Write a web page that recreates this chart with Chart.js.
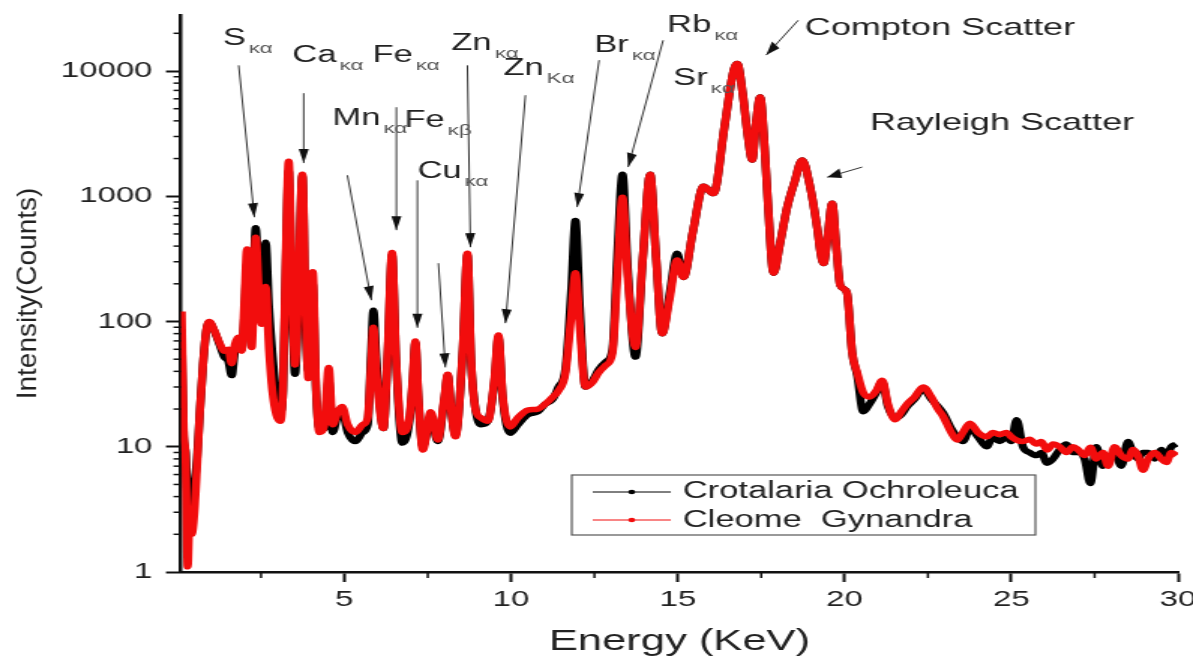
<!DOCTYPE html>
<html>
<head>
<meta charset="utf-8">
<title>EDXRF spectrum</title>
<script src="https://cdn.jsdelivr.net/npm/chart.js"></script>
<style>
  html, body { margin: 0; padding: 0; background: #fff; overflow: hidden; }
  /* the original figure is stretched sideways, so the chart is drawn narrow and scaled */
  #wrap { width: 800px; height: 661px; transform: scale(1.50063, 1); transform-origin: 0 0; }
</style>
</head>
<body>
<div id="wrap"><canvas id="spectrum"></canvas></div>
<script>
const STRETCH = 1193 / 795;

// energy grid (keV) and counts
const energy = [
  0.12, 0.18, 0.24, 0.30, 0.36, 0.42, 0.50, 0.58, 0.66, 0.76, 0.86, 0.95, 1.10, 1.25, 1.40, 1.52, 1.62, 1.72, 1.82, 1.92,
  2.00, 2.08, 2.16, 2.22, 2.34, 2.44, 2.52, 2.64, 2.74, 2.84, 2.96, 3.08, 3.16, 3.24, 3.33, 3.42, 3.52, 3.62, 3.74, 3.84,
  3.92, 4.05, 4.15, 4.25, 4.40, 4.53, 4.65, 4.80, 4.93, 5.10, 5.33, 5.55, 5.70, 5.80, 5.87, 5.96, 6.06, 6.17, 6.30, 6.43,
  6.55, 6.74, 6.95, 7.05, 7.13, 7.22, 7.35, 7.59, 7.80, 8.00, 8.10, 8.20, 8.33, 8.55, 8.69, 8.80, 8.93, 9.10, 9.30, 9.50,
  9.62, 9.75, 9.97, 10.2, 10.5, 10.8, 11.03, 11.25, 11.42, 11.63, 11.80, 11.93, 12.06, 12.23, 12.45, 12.62, 12.85, 13.04, 13.18, 13.34,
  13.50, 13.73, 13.95, 14.17, 14.35, 14.53, 14.75, 14.98, 15.17, 15.45, 15.77, 16.07, 16.40, 16.65, 16.78, 16.95, 17.10, 17.23, 17.35, 17.47,
  17.60, 17.70, 17.87, 18.05, 18.28, 18.50, 18.73, 18.95, 19.18, 19.27, 19.37, 19.50, 19.63, 19.75, 19.87, 20.07, 20.23, 20.38, 20.56, 20.75,
  20.95, 21.13, 21.30, 21.52, 21.70, 21.88, 22.10, 22.36, 22.60, 22.80, 22.96, 23.20, 23.38, 23.55, 23.76, 24.00, 24.26, 24.45, 24.65, 24.85,
  25.00, 25.16, 25.35, 25.55, 25.75, 25.90, 26.07, 26.25, 26.45, 26.65, 26.85, 27.00, 27.20, 27.37, 27.55, 27.75, 27.90, 28.10, 28.30, 28.50,
  28.65, 28.80, 28.95, 29.10, 29.30, 29.50, 29.65, 29.80, 29.95
];

const cleome = [
  120, 14, 8, 1.1, 3, 2, 3, 7, 18, 45, 85, 100, 85, 68, 58, 60, 46, 66, 75, 58,
  140, 380, 120, 62, 470, 160, 95, 190, 60, 28, 18, 16, 30, 300, 1900, 250, 45, 180, 1500, 120,
  35, 250, 30, 13, 15, 43, 15, 19, 21, 15, 13, 15, 17, 45, 90, 40, 20, 14, 60, 355,
  50, 13, 17, 35, 70, 25, 9.4, 19, 11.3, 25, 38, 20, 12, 60, 350, 50, 20, 17, 16, 35,
  78, 25, 14.4, 17, 19.6, 20, 22, 25, 28, 39, 110, 245, 90, 30, 33, 39, 45, 56, 220, 980,
  220, 62, 320, 1500, 320, 80, 150, 310, 225, 520, 1200, 1050, 3600, 9500, 11500, 6500, 3000, 1950, 4000, 6200,
  2500, 900, 243, 400, 820, 1300, 1950, 1250, 560, 370, 290, 500, 880, 400, 195, 170, 56, 39, 27, 25,
  28, 34, 22, 16.4, 19, 22, 25, 30, 25, 20, 17.4, 13, 11.3, 13, 15.4, 13, 12, 13, 12.5, 13,
  12, 11.3, 11, 11.5, 10.5, 11, 9.4, 10.5, 10, 9, 10, 9.5, 8.5, 9.9, 8, 9, 7, 10, 8.5, 8,
  9.5, 8.5, 6.5, 8, 9, 8, 7.5, 9, 8.5
];

const crotalaria = [
  80, 12, 9, 4, 5, 3, 5, 8, 18, 45, 85, 98, 84, 66, 52, 48, 37, 58, 62, 60,
  110, 290, 150, 95, 560, 200, 160, 430, 130, 56, 26, 19, 28, 250, 1600, 180, 38, 150, 1450, 90,
  40, 200, 28, 14, 14, 34, 13, 18, 19, 13, 11, 13, 15, 55, 123, 50, 22, 14, 55, 340,
  48, 10.7, 16, 33, 68, 24, 10, 17, 11, 24, 37, 20, 12.5, 58, 340, 48, 20, 15, 16, 33,
  75, 24, 12.8, 15, 18, 19, 22, 24, 30, 42, 170, 640, 130, 30, 34, 41, 48, 60, 320, 1500,
  260, 52, 320, 1500, 320, 80, 165, 350, 225, 520, 1200, 1050, 3600, 9500, 11500, 6500, 3000, 1950, 4000, 6200,
  2500, 900, 243, 400, 820, 1300, 1950, 1250, 560, 370, 290, 500, 880, 400, 195, 170, 56, 37, 19, 22,
  27, 33, 21, 17, 18, 21, 24, 29, 24, 21, 18.6, 14, 12, 11, 14, 12, 10, 12, 11, 12,
  11, 16.4, 10, 9, 8.5, 9, 7.4, 8, 9.5, 10.5, 9, 9, 8, 5.1, 10, 7, 8, 9, 7, 11,
  9, 8, 9, 9, 8, 9.5, 8.5, 10, 10.5
];

const seriesNames = ['Crotalaria Ochroleuca', 'Cleome  Gynandra'];
const seriesColors = ['#000000', '#f20d0d'];

// axis ticks
const xMajorTicks = [5, 10, 15, 20, 25, 30];
const xMinorTicks = [2.5, 7.5, 12.5, 17.5, 22.5, 27.5];
const yMajorTicks = [1, 10, 100, 1000, 10000];
const yMinorTicks = [2, 3, 4, 5, 6, 7, 8, 9, 20, 30, 40, 50, 60, 70, 80, 90, 200, 300, 400, 500, 600, 700, 800, 900,
  2000, 3000, 4000, 5000, 6000, 7000, 8000, 9000, 20000];

// peak labels: symbol, line subscript, anchor (keV, counts)
const peakSymbols = ['S', 'Ca', 'Fe', 'Mn', 'Fe', 'Cu', 'Zn', 'Zn', 'Br', 'Rb', 'Sr'];
const peakLines = ['κα', 'κα', 'κα', 'κα', 'κβ', 'κα', 'κα', 'Kα', 'κα', 'κα', 'κα'];
const peakLabelE = [1.35, 3.44, 5.84, 4.64, 6.80, 7.19, 8.21, 9.77, 12.49, 14.68, 14.86];
const peakLabelI = [16000, 11700, 11700, 3700, 3550, 1400, 14700, 9250, 14100, 20400, 7700];

const scatterLabels = ['Compton Scatter', 'Rayleigh Scatter'];
const scatterLabelE = [18.81, 20.76];
const scatterLabelI = [19300, 3370];

// arrows, from -> tip (keV, counts)
const arrowFromE = [1.83, 3.78, 6.56, 5.09, 7.19, 7.82, 8.69, 10.43, 12.64, 14.56, 18.61, 20.53];
const arrowFromI = [11100, 6650, 5140, 1470, 1340, 292, 11100, 6410, 12200, 17600, 25400, 1710];
const arrowToE = [2.30, 3.78, 6.56, 5.81, 7.19, 8.03, 8.78, 9.83, 11.98, 13.51, 17.65, 19.48];
const arrowToI = [680, 1840, 536, 148, 89, 43, 392, 97, 819, 1710, 13400, 1420];

const FONT = '"Liberation Sans", Arial, sans-serif';

function drawArrow(ctx, x0, y0, x1, y1) {
  ctx.beginPath();
  ctx.moveTo(x0, y0);
  ctx.lineTo(x1, y1);
  ctx.stroke();
  // build the head in screen space so it is not skewed by the stretch
  const dx = (x1 - x0) * STRETCH, dy = y1 - y0;
  const len = Math.hypot(dx, dy) || 1;
  const ux = dx / len, uy = dy / len;
  const L = 14, w = 5;
  const bx = -L * ux, by = -L * uy;
  ctx.beginPath();
  ctx.moveTo(x1, y1);
  ctx.lineTo(x1 + (bx - w * uy) / STRETCH, y1 + by + w * ux);
  ctx.lineTo(x1 + (bx + w * uy) / STRETCH, y1 + by - w * ux);
  ctx.closePath();
  ctx.fill();
}

const decorations = {
  id: 'decorations',
  afterDraw(chart) {
    const { ctx, chartArea, scales: { x, y } } = chart;
    ctx.save();

    // minor ticks
    ctx.strokeStyle = '#111';
    ctx.lineWidth = 1.5;
    xMinorTicks.forEach(v => {
      const px = x.getPixelForValue(v);
      ctx.beginPath();
      ctx.moveTo(px, chartArea.bottom);
      ctx.lineTo(px, chartArea.bottom + 6);
      ctx.stroke();
    });
    yMinorTicks.forEach(v => {
      const py = y.getPixelForValue(v);
      ctx.beginPath();
      ctx.moveTo(chartArea.left - 5, py);
      ctx.lineTo(chartArea.left, py);
      ctx.stroke();
    });

    // arrows
    ctx.strokeStyle = '#333';
    ctx.fillStyle = '#111';
    ctx.lineWidth = 1;
    arrowFromE.forEach((e, i) => {
      drawArrow(ctx,
        x.getPixelForValue(e), y.getPixelForValue(arrowFromI[i]),
        x.getPixelForValue(arrowToE[i]), y.getPixelForValue(arrowToI[i]));
    });

    // peak labels with subscripts
    ctx.textAlign = 'left';
    ctx.textBaseline = 'alphabetic';
    peakSymbols.forEach((s, i) => {
      const px = x.getPixelForValue(peakLabelE[i]);
      const py = y.getPixelForValue(peakLabelI[i]);
      ctx.font = '23px ' + FONT;
      ctx.fillStyle = '#222';
      ctx.fillText(s, px, py);
      const w = ctx.measureText(s).width;
      ctx.font = '15px ' + FONT;
      ctx.fillStyle = '#555';
      ctx.fillText(peakLines[i], px + w + 2, py + 8);
    });

    ctx.font = '24px ' + FONT;
    ctx.fillStyle = '#222';
    scatterLabels.forEach((s, i) => {
      ctx.fillText(s, x.getPixelForValue(scatterLabelE[i]), y.getPixelForValue(scatterLabelI[i]));
    });

    // legend box inside the plot
    const bx = 381, by = 475, bw = 309, bh = 60;
    ctx.strokeStyle = '#555';
    ctx.lineWidth = 1.2;
    ctx.strokeRect(bx, by, bw, bh);
    const rows = [492, 520], baselines = [498, 527];
    seriesNames.forEach((name, i) => {
      ctx.strokeStyle = seriesColors[i];
      ctx.fillStyle = seriesColors[i];
      ctx.lineWidth = 1;
      ctx.beginPath();
      ctx.moveTo(bx + 14, rows[i]);
      ctx.lineTo(bx + 66, rows[i]);
      ctx.stroke();
      ctx.beginPath();
      ctx.arc(bx + 40, rows[i], 2.3, 0, Math.PI * 2);
      ctx.fill();
      ctx.font = '23px ' + FONT;
      ctx.fillStyle = '#222';
      ctx.fillText(name, bx + 74, baselines[i]);
    });

    // y title, kept unstretched like the original
    ctx.translate(18.9, (chartArea.top + chartArea.bottom) / 2);
    ctx.scale(1 / STRETCH, 1);
    ctx.rotate(-Math.PI / 2);
    ctx.font = '28px ' + FONT;
    ctx.fillStyle = '#222';
    ctx.textAlign = 'center';
    ctx.textBaseline = 'middle';
    ctx.fillText('Intensity(Counts)', 0, 0);

    ctx.restore();
  }
};

const tickFont = { family: FONT, size: 22 };

new Chart(document.getElementById('spectrum'), {
  type: 'line',
  data: {
    datasets: [
      {
        label: seriesNames[1],
        data: energy.map((e, i) => ({ x: e, y: cleome[i] })),
        borderColor: seriesColors[1],
        borderWidth: 5.5,
        pointRadius: 0,
        cubicInterpolationMode: 'monotone',
        order: 0
      },
      {
        label: seriesNames[0],
        data: energy.map((e, i) => ({ x: e, y: crotalaria[i] })),
        borderColor: seriesColors[0],
        borderWidth: 5.5,
        pointRadius: 0,
        cubicInterpolationMode: 'monotone',
        order: 1
      }
    ]
  },
  options: {
    responsive: true,
    maintainAspectRatio: false,
    animation: false,
    layout: { padding: { left: 0, right: 15, top: 15, bottom: 0 } },
    plugins: { legend: { display: false }, tooltip: { enabled: false } },
    scales: {
      x: {
        type: 'linear',
        min: 0.1,
        max: 30,
        afterBuildTicks: s => { s.ticks = xMajorTicks.map(v => ({ value: v })); },
        afterFit: s => { s.height = 89; s.paddingLeft = 0; s.paddingRight = 0; },
        ticks: { font: tickFont, color: '#222', padding: 5, maxRotation: 0, autoSkip: false, callback: v => String(v) },
        grid: { drawOnChartArea: false, tickLength: 10, tickWidth: 2, tickColor: '#111' },
        border: { color: '#111', width: 2.5 },
        title: { display: true, text: 'Energy (KeV)', color: '#222', font: { family: FONT, size: 29 }, padding: { top: 0, bottom: 2 } }
      },
      y: {
        type: 'logarithmic',
        min: 1,
        max: 28000,
        afterBuildTicks: s => { s.ticks = yMajorTicks.map(v => ({ value: v })); },
        afterFit: s => { s.width = 120.6; s.paddingTop = 0; s.paddingBottom = 0; },
        ticks: { font: tickFont, color: '#222', padding: 9, autoSkip: false, callback: v => String(v) },
        grid: { drawOnChartArea: false, tickLength: 10, tickWidth: 2, tickColor: '#111' },
        border: { color: '#111', width: 2.5 }
      }
    }
  },
  plugins: [decorations]
});
</script>
</body>
</html>
